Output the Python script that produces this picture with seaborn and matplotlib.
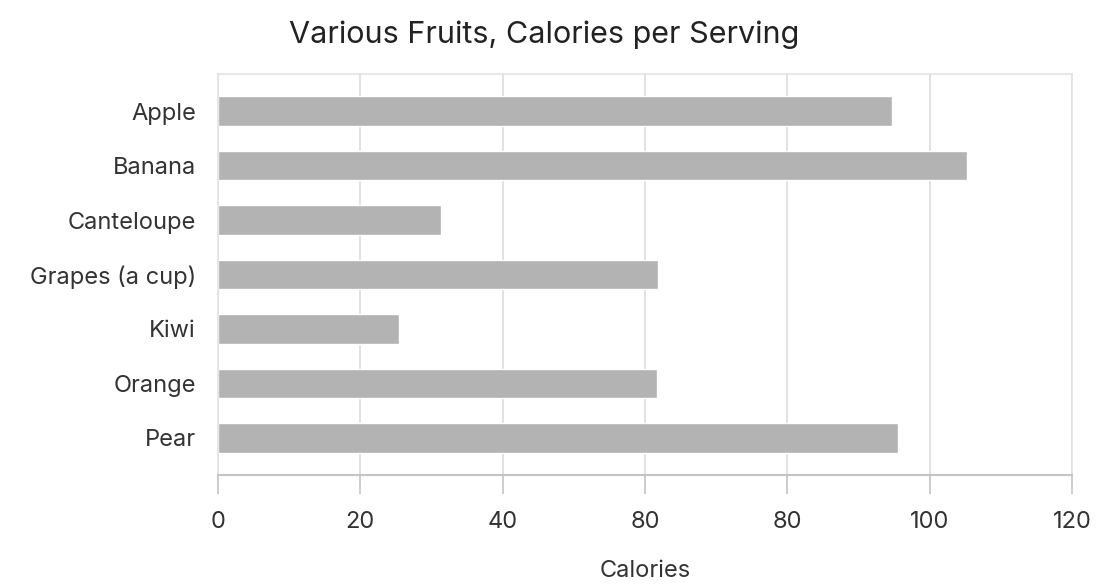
import matplotlib
import matplotlib.pyplot as plt
import pandas as pd
import seaborn as sns

matplotlib.use("Agg")

fruits = ["Apple", "Banana", "Canteloupe", "Grapes (a cup)", "Kiwi", "Orange", "Pear"]
calories = [94.7, 105.3, 31.4, 61.8, 25.4, 61.7, 95.6]
tick_values = [0, 20, 40, 60, 80, 100, 120]
tick_labels = ["0", "20", "40", "80", "80", "100", "120"]

df = pd.DataFrame({"fruit": fruits, "calories": calories})

sns.set_theme(style="white")
plt.rcParams["font.family"] = ["Inter", "DejaVu Sans"]

fig = plt.figure(figsize=(10.99, 5.84), dpi=100)
ax = fig.add_axes([0.1984, 0.1866, 0.7770, 0.6867])

sns.barplot(data=df, x="calories", y="fruit", color="#b3b3b3", saturation=1,
            width=0.54, ax=ax)

ax.set_xlim(0, 120)
ax.set_ylim(6.68, -0.68)
ax.set_xticks(tick_values)
ax.set_xticklabels(tick_labels)
ax.xaxis.grid(True, color="#dcdcdc", linewidth=1.2)
ax.set_axisbelow(True)

for side in ["top", "left", "right"]:
    ax.spines[side].set_color("#e3e3e3")
    ax.spines[side].set_linewidth(1.2)
ax.spines["bottom"].set_color("#c4c4c4")
ax.spines["bottom"].set_linewidth(1.5)

ax.tick_params(axis="x", bottom=True, length=14, width=1.2, color="#c4c4c4",
               pad=12, labelsize=17, labelcolor="#333333")
ax.tick_params(axis="y", left=False, pad=10, labelsize=17, labelcolor="#333333")

ax.set_ylabel("")
ax.set_xlabel("Calories", fontsize=17, color="#333333", labelpad=19)
fig.suptitle("Various Fruits, Calories per Serving", fontsize=22, color="#222222",
             x=0.495, y=0.965)

fig.savefig("out.png", dpi=100, facecolor="white")
